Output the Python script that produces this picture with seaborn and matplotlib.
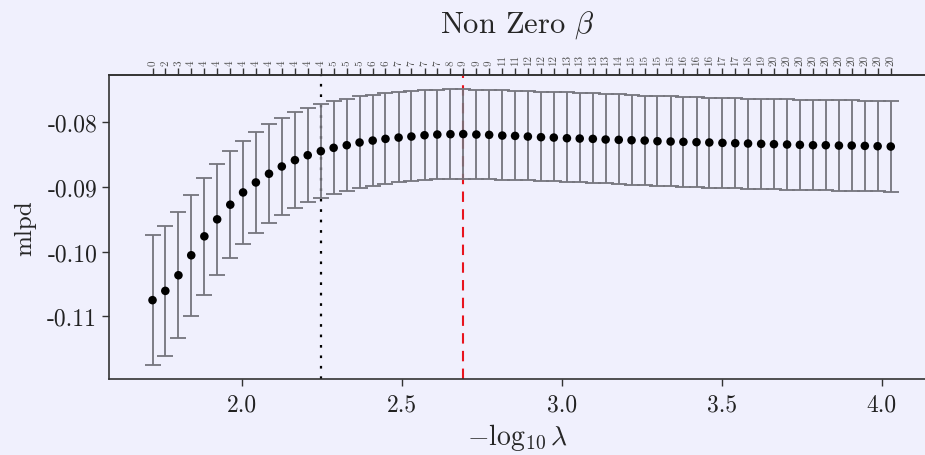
import matplotlib
matplotlib.use("Agg")
import matplotlib.pyplot as plt
import seaborn as sns
import pandas as pd

# -log10(lambda) grid
neg_log_lambda = [1.721, 1.761, 1.802, 1.842, 1.883, 1.923, 1.964, 2.004, 2.044, 2.085,
                  2.125, 2.166, 2.206, 2.247, 2.287, 2.328, 2.368, 2.409, 2.449, 2.490,
                  2.530, 2.571, 2.611, 2.652, 2.692, 2.733, 2.773, 2.814, 2.854, 2.894,
                  2.935, 2.975, 3.016, 3.056, 3.097, 3.137, 3.178, 3.218, 3.259, 3.299,
                  3.340, 3.380, 3.421, 3.461, 3.502, 3.542, 3.582, 3.623, 3.663, 3.704,
                  3.744, 3.785, 3.825, 3.866, 3.906, 3.947, 3.987, 4.028]

mlpd_mean = [-0.10749, -0.10606, -0.10365, -0.10057, -0.09765, -0.09503, -0.09277, -0.09088,
             -0.08934, -0.08800, -0.08688, -0.08590, -0.08514, -0.08452, -0.08400, -0.08360,
             -0.08318, -0.08288, -0.08262, -0.08242, -0.08226, -0.08206, -0.08195, -0.08190,
             -0.08188, -0.08195, -0.08200, -0.08211, -0.08216, -0.08226, -0.08236, -0.08242,
             -0.08252, -0.08257, -0.08262, -0.08272, -0.08277, -0.08283, -0.08288, -0.08298,
             -0.08303, -0.08308, -0.08313, -0.08318, -0.08324, -0.08329, -0.08334, -0.08339,
             -0.08344, -0.08349, -0.08354, -0.08360, -0.08360, -0.08365, -0.08365, -0.08370,
             -0.08375, -0.08380]

mlpd_upper = [-0.09745, -0.09606, -0.09391, -0.09129, -0.08867, -0.08642, -0.08452, -0.08288,
              -0.08149, -0.08037, -0.07938, -0.07852, -0.07780, -0.07723, -0.07683, -0.07642,
              -0.07606, -0.07580, -0.07554, -0.07534, -0.07518, -0.07508, -0.07503, -0.07498,
              -0.07498, -0.07503, -0.07508, -0.07513, -0.07518, -0.07529, -0.07534, -0.07539,
              -0.07544, -0.07549, -0.07560, -0.07565, -0.07575, -0.07585, -0.07595, -0.07600,
              -0.07606, -0.07616, -0.07621, -0.07626, -0.07631, -0.07636, -0.07642, -0.07647,
              -0.07647, -0.07652, -0.07657, -0.07662, -0.07662, -0.07667, -0.07667, -0.07672,
              -0.07672, -0.07677]

mlpd_lower = [-0.11745, -0.11606, -0.11339, -0.10990, -0.10662, -0.10360, -0.10103, -0.09888,
              -0.09713, -0.09560, -0.09437, -0.09329, -0.09242, -0.09170, -0.09118, -0.09067,
              -0.09026, -0.08990, -0.08960, -0.08934, -0.08913, -0.08898, -0.08888, -0.08883,
              -0.08883, -0.08888, -0.08888, -0.08893, -0.08898, -0.08903, -0.08908, -0.08918,
              -0.08924, -0.08934, -0.08939, -0.08949, -0.08960, -0.08970, -0.08980, -0.08985,
              -0.08995, -0.09000, -0.09011, -0.09016, -0.09021, -0.09026, -0.09031, -0.09036,
              -0.09042, -0.09047, -0.09052, -0.09057, -0.09057, -0.09062, -0.09067, -0.09067,
              -0.09072, -0.09077]

nonzero_counts = [0, 2, 3, 4, 4, 4, 4, 4, 4, 4, 4, 4, 4, 4, 5, 5, 5, 6, 6, 7,
                  7, 7, 7, 8, 9, 9, 9, 11, 11, 12, 12, 12, 13, 13, 13, 13, 14, 15, 15, 15,
                  15, 16, 16, 16, 17, 17, 18, 19, 20, 20, 20, 20, 20, 20, 20, 20, 20, 20]

x_ticks = [2.0, 2.5, 3.0, 3.5, 4.0]
y_ticks = [-0.08, -0.09, -0.10, -0.11]
idx_1se = 13
idx_best = 24

bg = "#F0F0FD"
sns.set_theme(style="ticks", rc={"axes.facecolor": bg, "figure.facecolor": bg})
plt.rcParams["font.family"] = ["cmr10", "DejaVu Serif"]
plt.rcParams["mathtext.fontset"] = "cm"
plt.rcParams["axes.unicode_minus"] = False
plt.rcParams["axes.formatter.use_mathtext"] = True

df = pd.DataFrame({"x": neg_log_lambda, "mean": mlpd_mean,
                   "upper": mlpd_upper, "lower": mlpd_lower})

fig = plt.figure(figsize=(9.25, 4.56), dpi=100)
ax = fig.add_axes([109 / 925, 1 - 380 / 456, 1 - 109 / 925, (380 - 76) / 456])

yerr = [[m - l for m, l in zip(df["mean"], df["lower"])],
        [u - m for m, u in zip(df["mean"], df["upper"])]]
ax.errorbar(df["x"], df["mean"], yerr=yerr, fmt="none", ecolor="#75757d",
            elinewidth=1.3, capsize=5.5, capthick=1.3, zorder=2)
sns.scatterplot(data=df, x="x", y="mean", ax=ax, color="black", s=38,
                edgecolor="none", zorder=3)

ax.axvline(neg_log_lambda[idx_1se], color="black", linestyle=(0, (1.2, 3.5)),
           linewidth=1.6, zorder=1)
ax.axvline(neg_log_lambda[idx_best], color="#e8141e", linestyle=(0, (5, 3.5)),
           linewidth=1.5, zorder=1)

ax.set_xlim(1.585, 4.135)
ax.set_ylim(-0.11965, -0.07277)
ax.set_xticks(x_ticks)
ax.set_xticklabels([f"{v:.1f}" for v in x_ticks])
ax.set_yticks(y_ticks)
ax.set_yticklabels([f"{v:.2f}" for v in y_ticks])
ax.tick_params(axis="both", labelsize=17, length=5, width=1, color="#333333",
               labelcolor="#222222")
ax.tick_params(axis="x", pad=5)

for side in ["left", "bottom", "top"]:
    ax.spines[side].set_color("#333333")
    ax.spines[side].set_linewidth(1.2)
ax.spines["right"].set_visible(False)

top = ax.secondary_xaxis("top")
top.set_xticks(neg_log_lambda)
top.set_xticklabels([str(c) for c in nonzero_counts], rotation=90, fontsize=8,
                    color="#555555")
top.tick_params(length=5, width=1, color="#333333", pad=2)
top.spines["top"].set_color("#333333")
top.spines["top"].set_linewidth(1.2)

ax.set_xlabel(r"$-\log_{10}\lambda$", fontsize=20, labelpad=4)
ax.set_ylabel("mlpd", fontsize=18, labelpad=8)
ax.set_title(r"Non Zero $\beta$", fontsize=22, pad=16)

fig.savefig("out.png", dpi=100, facecolor=bg)
